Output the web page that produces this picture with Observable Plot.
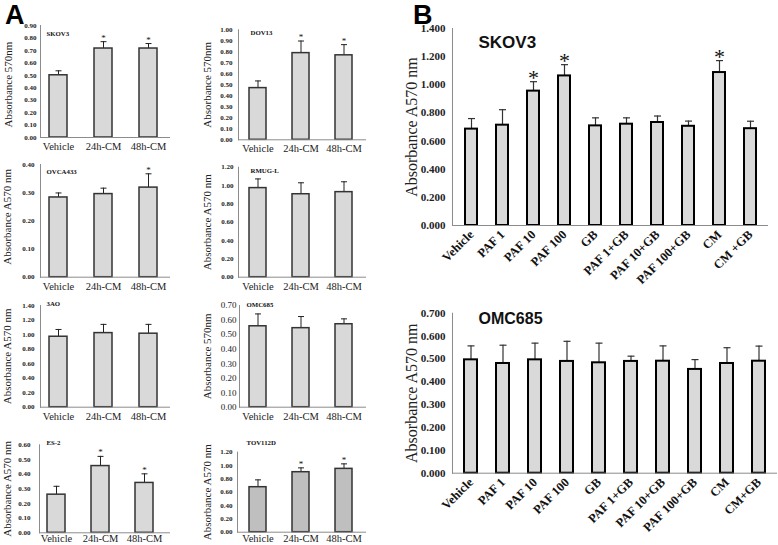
<!DOCTYPE html>
<html>
<head>
<meta charset="utf-8">
<script src="https://cdn.jsdelivr.net/npm/d3@7"></script>
<script src="https://cdn.jsdelivr.net/npm/@observablehq/plot@0.6"></script>
<style>
  html, body { margin: 0; padding: 0; background: #fff; }
  #root { position: relative; width: 778px; height: 545px; overflow: hidden; }
  #root svg { position: absolute; left: 0; top: 0; }
  .panelLetter { position: absolute; font: bold 27px "Liberation Sans", Arial, sans-serif; line-height: normal; color: #000; }
</style>
</head>
<body>
<div id="root">
  <div class="panelLetter" style="left:5px; top:0px;">A</div>
  <div class="panelLetter" style="left:413px; top:0px;">B</div>
</div>
<script>
// ---------- Data: panel A ----------
const conditionsA = ["Vehicle", "24h-CM", "48h-CM"];

const skov3A_mean = [0.500, 0.715, 0.715];
const skov3A_sd   = [0.036, 0.055, 0.040];
const skov3A_sig  = [false, true, true];
const skov3A_ticks = [0, 0.1, 0.2, 0.3, 0.4, 0.5, 0.6, 0.7, 0.8, 0.9];

const dov13_mean = [0.470, 0.788, 0.768];
const dov13_sd   = [0.065, 0.110, 0.097];
const dov13_sig  = [false, true, true];
const dov13_ticks = [0, 0.1, 0.2, 0.3, 0.4, 0.5, 0.6, 0.7, 0.8, 0.9, 1.0];

const ovca433_mean = [0.283, 0.295, 0.318];
const ovca433_sd   = [0.016, 0.021, 0.049];
const ovca433_sig  = [false, false, true];
const ovca433_ticks = [0, 0.1, 0.2, 0.3, 0.4];

const rmugl_mean = [0.972, 0.905, 0.928];
const rmugl_sd   = [0.100, 0.125, 0.113];
const rmugl_sig  = [false, false, false];
const rmugl_ticks = [0, 0.2, 0.4, 0.6, 0.8, 1.0, 1.2];

const ao3_mean = [0.970, 1.020, 1.012];
const ao3_sd   = [0.100, 0.120, 0.128];
const ao3_sig  = [false, false, false];
const ao3_ticks = [0, 0.2, 0.4, 0.6, 0.8, 1.0, 1.2, 1.4];

const omc685A_mean = [0.557, 0.544, 0.571];
const omc685A_sd   = [0.085, 0.080, 0.037];
const omc685A_sig  = [false, false, false];
const omc685A_ticks = [0, 0.1, 0.2, 0.3, 0.4, 0.5, 0.6, 0.7];

const es2_mean = [0.260, 0.455, 0.340];
const es2_sd   = [0.057, 0.066, 0.062];
const es2_sig  = [false, true, true];
const es2_ticks = [0, 0.1, 0.2, 0.3, 0.4, 0.5, 0.6];

const tov112d_mean = [0.675, 0.900, 0.950];
const tov112d_sd   = [0.110, 0.065, 0.075];
const tov112d_sig  = [false, true, true];
const tov112d_ticks = [0, 0.2, 0.4, 0.6, 0.8, 1.0, 1.2];

// ---------- Data: panel B ----------
const treatmentsB_skov3 = ["Vehicle", "PAF 1", "PAF 10", "PAF 100", "GB", "PAF 1+GB", "PAF 10+GB", "PAF 100+GB", "CM", "CM +GB"];
const skov3B_mean = [0.685, 0.713, 0.955, 1.063, 0.708, 0.720, 0.732, 0.705, 1.087, 0.688];
const skov3B_sd   = [0.075, 0.110, 0.067, 0.080, 0.057, 0.045, 0.046, 0.037, 0.085, 0.053];
const skov3B_sig  = [false, false, true, true, false, false, false, false, true, false];
const skov3B_ticks = [0, 0.2, 0.4, 0.6, 0.8, 1.0, 1.2, 1.4];

const treatmentsB_omc = ["Vehicle", "PAF 1", "PAF 10", "PAF 100", "GB", "PAF 1+GB", "PAF 10+GB", "PAF 100+GB", "CM", "CM+GB"];
const omc685B_mean = [0.496, 0.480, 0.496, 0.489, 0.483, 0.489, 0.490, 0.454, 0.480, 0.490];
const omc685B_sd   = [0.061, 0.080, 0.073, 0.088, 0.086, 0.023, 0.067, 0.043, 0.069, 0.066];
const omc685B_sig  = [false, false, false, false, false, false, false, false, false, false];
const omc685B_ticks = [0, 0.1, 0.2, 0.3, 0.4, 0.5, 0.6, 0.7];

// ---------- Rendering ----------
const W = 778, H = 545;
const SERIF = "Liberation Serif, Times New Roman, serif";
const SANS = "Liberation Sans, Arial, sans-serif";

const capSymbol = {
  draw(context, size) {
    const r = Math.sqrt(size / Math.PI);
    context.moveTo(-r, 0);
    context.lineTo(r, 0);
  }
};

function panel(c) {
  const data = c.cats.map((cat, i) => ({cat, mean: c.mean[i], sd: c.sd[i], sig: c.sig[i]}));
  const top = d => d.mean + d.sd;
  return Plot.plot({
    width: W, height: H,
    marginLeft: c.frame[0], marginRight: W - c.frame[1],
    marginTop: c.yTop, marginBottom: H - c.yZero,
    style: {background: "transparent", overflow: "visible"},
    x: {type: "band", domain: c.cats, range: c.xRange, paddingInner: c.pi, paddingOuter: c.po, axis: null},
    y: {domain: [0, c.yMax], axis: null},
    marks: [
      Plot.ruleX(data, {x: "cat", y1: "mean", y2: top, stroke: c.errColor, strokeWidth: c.errWidth}),
      Plot.dot(data, {x: "cat", y: top, symbol: capSymbol, r: c.cap, stroke: c.errColor, strokeWidth: c.errWidth, fill: "none"}),
      Plot.barY(data, {x: "cat", y: "mean", fill: c.fill, stroke: c.barStroke, strokeWidth: c.barStrokeWidth}),
      Plot.frame({anchor: "left", stroke: "#8c8c8c", strokeWidth: 1}),
      Plot.ruleY([0], {stroke: "#8c8c8c", strokeWidth: 1}),
      Plot.text(data.filter(d => d.sig), {x: "cat", y: top, text: () => "*", lineAnchor: "bottom",
        dy: c.starDy, fontSize: c.starSize, fontFamily: SERIF, fill: "#111"}),
      Plot.axisY({ticks: c.ticks, tickFormat: d3.format(c.fmt), tickSize: 0, tickPadding: c.tickPad,
        fontSize: c.tickFont, fontWeight: c.tickWeight, fontFamily: SERIF, color: "#222", label: null}),
      Plot.axisX(c.rotate
        ? {tickSize: 0, tickPadding: c.xPad, tickRotate: -45, fontSize: c.xFont, fontWeight: "bold", fontFamily: SERIF, color: "#111", label: null}
        : {tickSize: 0, tickPadding: c.xPad, fontSize: c.xFont, fontFamily: SERIF, color: "#222", label: null}),
      Plot.text([c.title], {frameAnchor: "top-left", textAnchor: "start", lineAnchor: "bottom",
        dx: c.titleDx, dy: c.titleDy, fontSize: c.titleFont, fontWeight: "bold", fontFamily: c.titleFamily, fill: "#111"}),
      Plot.text([c.yLabel], {frameAnchor: "left", textAnchor: "middle", lineAnchor: "middle", rotate: -90,
        dx: c.yLabelDx, dy: c.yLabelDy || 0, fontSize: c.yLabelFont, fontFamily: SERIF, fill: "#222"})
    ]
  });
}

const baseA = {
  cats: conditionsA, pi: 0.6, po: 0.3, fill: "#d9d9d9", barStroke: "#333", barStrokeWidth: 1.5,
  errColor: "#222", errWidth: 1, cap: 3, starDy: -1, starSize: 9, fmt: ".2f",
  tickFont: 7, tickWeight: "bold", xFont: 10.5, xPad: 5, titleFont: 6.8, titleFamily: SERIF,
  yLabelFont: 11
};

const panels = [
  {...baseA, title: "SKOV3", yLabel: "Absorbance 570nm", mean: skov3A_mean, sd: skov3A_sd, sig: skov3A_sig,
    ticks: skov3A_ticks, yMax: 0.9, frame: [40, 170], xRange: [35, 170], yTop: 25, yZero: 137,
    tickPad: 4, titleDx: 6, titleDy: 10, yLabelDx: -32, yLabelDy: 3},
  {...baseA, title: "DOV13", yLabel: "Absorbance 570nm", mean: dov13_mean, sd: dov13_sd, sig: dov13_sig,
    ticks: dov13_ticks, yMax: 1.0, frame: [238, 366], xRange: [236.5, 365.5], yTop: 29.3, yZero: 139.3,
    tickPad: 6, titleDx: 12, titleDy: 5.5, yLabelDx: -31},
  {...baseA, title: "OVCA433", yLabel: "Absorbance A570 nm", mean: ovca433_mean, sd: ovca433_sd, sig: ovca433_sig,
    ticks: ovca433_ticks, yMax: 0.4, frame: [40, 170], xRange: [35, 170], yTop: 164, yZero: 276.7,
    tickPad: 6, titleDx: 6, titleDy: 9.5, yLabelDx: -33, yLabelDy: -4},
  {...baseA, title: "RMUG-L", yLabel: "Absorbance A570 nm", mean: rmugl_mean, sd: rmugl_sd, sig: rmugl_sig,
    ticks: rmugl_ticks, yMax: 1.2, frame: [238, 366], xRange: [236.5, 365.5], yTop: 166.7, yZero: 276.7,
    tickPad: 5, titleDx: 12, titleDy: 5.5, yLabelDx: -31},
  {...baseA, title: "3AO", yLabel: "Absorbance A570 nm", mean: ao3_mean, sd: ao3_sd, sig: ao3_sig,
    ticks: ao3_ticks, yMax: 1.4, frame: [40, 170], xRange: [35, 170], yTop: 305, yZero: 406.7,
    tickPad: 6, titleDx: 6, titleDy: 0, yLabelDx: -33},
  {...baseA, title: "OMC685", yLabel: "Absorbance 570nm", mean: omc685A_mean, sd: omc685A_sd, sig: omc685A_sig,
    ticks: omc685A_ticks, yMax: 0.7, frame: [239, 366], xRange: [236.5, 365.5], yTop: 305, yZero: 406.7,
    tickPad: 3, tickFont: 9, tickWeight: "normal", titleDx: 7, titleDy: 1, yLabelDx: -32},
  {...baseA, title: "ES-2", yLabel: "Absorbance A570 nm", mean: es2_mean, sd: es2_sd, sig: es2_sig,
    ticks: es2_ticks, yMax: 0.6, frame: [39, 170], xRange: [33.5, 166.5], yTop: 444.3, yZero: 532.3,
    tickPad: 9, xPad: 2, titleDx: 7, titleDy: 0, yLabelDx: -32},
  {...baseA, title: "TOV112D", yLabel: "Absorbance A570 nm", mean: tov112d_mean, sd: tov112d_sd, sig: tov112d_sig,
    ticks: tov112d_ticks, yMax: 1.2, frame: [237, 366], xRange: [236, 366], yTop: 451.7, yZero: 531.7,
    tickPad: 5, xPad: 2, fill: "#bfbfbf", titleDx: 9, titleDy: -7.5, yLabelDx: -30},
  // Panel B
  {cats: treatmentsB_skov3, title: "SKOV3", yLabel: "Absorbance A570 nm", mean: skov3B_mean, sd: skov3B_sd, sig: skov3B_sig,
    ticks: skov3B_ticks, yMax: 1.4, fmt: ".3f", frame: [452, 768], xRange: [454, 768], yTop: 28, yZero: 225,
    pi: 0.6, po: 0.3, fill: "#d9d9d9", barStroke: "#000", barStrokeWidth: 2, errColor: "#333", errWidth: 1.2, cap: 3.5,
    starDy: 3, starSize: 22, tickFont: 11, tickWeight: "bold", tickPad: 7, rotate: true, xFont: 12.5, xPad: 7,
    titleFont: 17, titleFamily: SANS, titleDx: 26, titleDy: 19, yLabelFont: 16, yLabelDx: -41},
  {cats: treatmentsB_omc, title: "OMC685", yLabel: "Absorbance A570 nm", mean: omc685B_mean, sd: omc685B_sd, sig: omc685B_sig,
    ticks: omc685B_ticks, yMax: 0.7, fmt: ".3f", frame: [452, 777], xRange: [452, 776], yTop: 312.7, yZero: 472.7,
    pi: 0.6, po: 0.3, fill: "#d9d9d9", barStroke: "#000", barStrokeWidth: 2, errColor: "#333", errWidth: 1.2, cap: 3.5,
    starDy: 3, starSize: 22, tickFont: 11, tickWeight: "bold", tickPad: 7, rotate: true, xFont: 12.5, xPad: 7,
    titleFont: 16, titleFamily: SANS, titleDx: 26, titleDy: 11, yLabelFont: 16, yLabelDx: -41}
];

const root = document.getElementById("root");
for (const p of panels) root.appendChild(panel(p));
</script>
</body>
</html>
